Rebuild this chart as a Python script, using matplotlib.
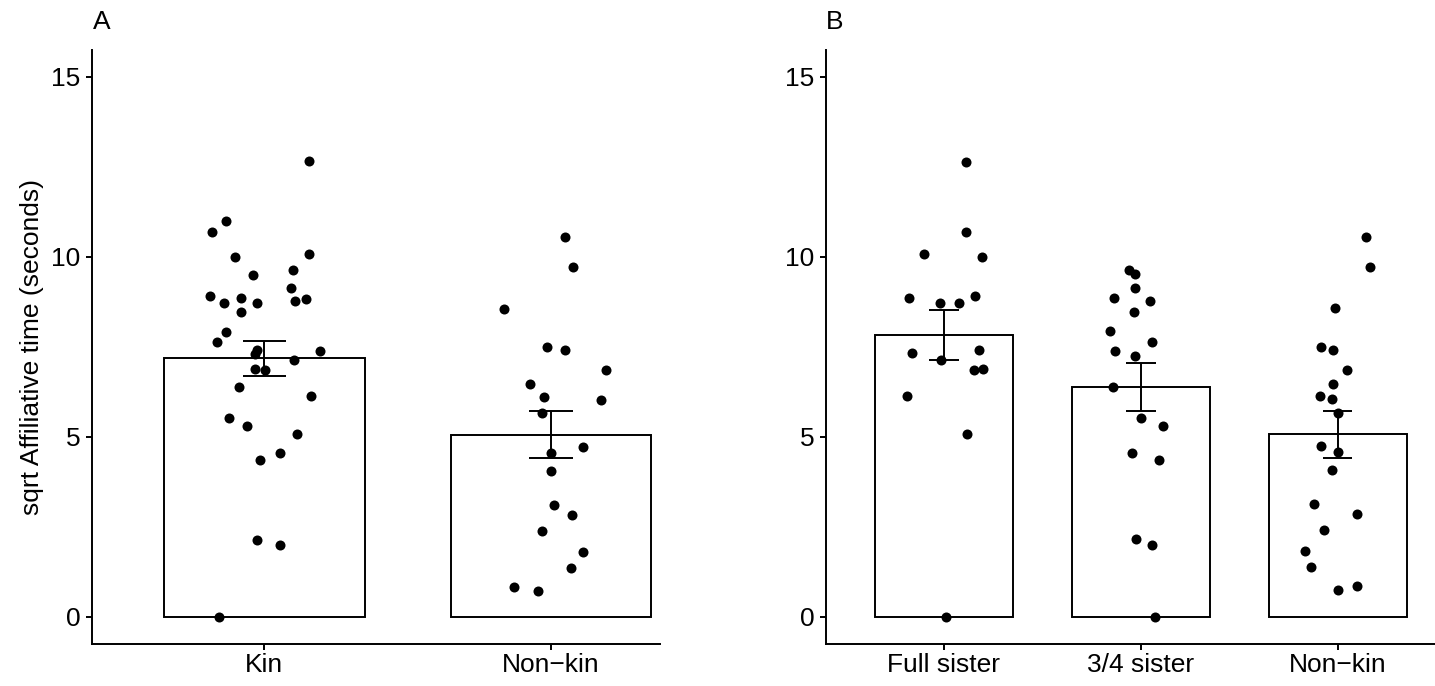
import matplotlib
matplotlib.use("Agg")
import matplotlib.pyplot as plt

plt.rcParams['font.family'] = ['Liberation Sans', 'DejaVu Sans']

# Panel A: kin vs non-kin
grupos_a = ["Kin", "Non\u2212kin"]
media_a = [7.19, 5.06]
error_a = [0.49, 0.65]

kin_vals = [12.66, 10.99, 10.70, 10.00, 10.07, 9.63, 9.51, 9.15, 8.91, 8.71, 8.85,
            8.72, 8.79, 8.83, 8.47, 7.93, 7.65, 7.42, 7.31, 7.38, 7.14, 6.90, 6.85,
            6.39, 6.14, 5.52, 5.30, 5.08, 4.56, 4.37, 2.15, 2.00, 0.00]
kin_jit = [0.155, -0.132, -0.180, -0.101, 0.155, 0.102, -0.038, 0.095, -0.189, -0.140, -0.081,
           -0.025, 0.108, 0.145, -0.081, -0.134, -0.166, -0.026, -0.033, 0.194, 0.103, -0.031, 0.003,
           -0.089, 0.165, -0.122, -0.058, 0.116, 0.055, -0.016, -0.024, 0.057, -0.157]

nonkin_a_vals = [10.56, 9.71, 8.56, 7.49, 7.41, 6.85, 6.46, 6.11, 6.04, 5.66,
                 4.56, 4.72, 4.06, 3.10, 2.84, 2.39, 1.81, 1.35, 0.84, 0.72]
nonkin_a_jit = [0.049, 0.077, -0.163, -0.015, 0.048, 0.192, -0.072, -0.023, 0.175, -0.032,
                -0.001, 0.111, 0.000, 0.009, 0.073, -0.030, 0.111, 0.071, -0.130, -0.045]

# Panel B: relatedness classes
grupos_b = ["Full sister", "3/4 sister", "Non\u2212kin"]
media_b = [7.84, 6.38, 5.07]
error_b = [0.70, 0.67, 0.65]

full_vals = [12.65, 10.70, 10.07, 9.99, 8.85, 8.72, 8.71, 8.91, 7.34, 7.14, 7.43,
             6.85, 6.90, 6.15, 5.08, 0.00]
full_jit = [0.110, 0.113, -0.100, 0.194, -0.178, -0.022, 0.076, 0.157, -0.161, -0.015, 0.179,
            0.154, 0.198, -0.188, 0.117, 0.012]

tq_vals = [9.65, 9.52, 9.15, 8.85, 8.79, 8.48, 7.94, 7.65, 7.38, 7.25, 6.40,
           5.53, 5.30, 4.56, 4.37, 2.17, 2.00, 0.00]
tq_jit = [-0.058, -0.030, -0.030, -0.136, 0.047, -0.037, -0.156, 0.057, -0.129, -0.027, -0.142,
          0.000, 0.115, -0.044, 0.094, -0.024, 0.057, 0.074]

nonkin_b_vals = [10.56, 9.71, 8.58, 7.51, 7.43, 6.86, 6.48, 6.14, 6.06, 5.68,
                 4.75, 4.58, 4.09, 3.13, 2.86, 2.42, 1.84, 1.38, 0.86, 0.75]
nonkin_b_jit = [0.144, 0.165, -0.014, -0.085, -0.022, 0.047, -0.024, -0.090, -0.030, 0.000,
                -0.083, 0.000, -0.027, -0.120, 0.098, -0.070, -0.166, -0.134, 0.098, 0.000]

W, H = 1435, 686
fig = plt.figure(figsize=(W / 100, H / 100), dpi=100)
lw = 1.4
fs = 19


def panel(ax, grupos, medias, errores, puntos, xlim):
    xs = list(range(1, len(grupos) + 1))
    ax.bar(xs, medias, width=0.7, color='white', edgecolor='black', linewidth=lw, zorder=1)
    lo = [m - e for m, e in zip(medias, errores)]
    hi = [m + e for m, e in zip(medias, errores)]
    ax.vlines(xs, lo, hi, color='black', linewidth=lw, zorder=2)
    for x, a, b in zip(xs, lo, hi):
        ax.hlines([a, b], x - 0.075, x + 0.075, color='black', linewidth=lw, zorder=2)
    for x, (vals, jit) in zip(xs, puntos):
        ax.scatter([x + j for j in jit], vals, s=52, color='black', linewidths=0, zorder=3)
    ax.set_xlim(*xlim)
    ax.set_ylim(-0.75, 15.75)
    ax.set_xticks(xs)
    ax.set_xticklabels(grupos)
    ax.set_yticks([0, 5, 10, 15])
    for s in ['top', 'right']:
        ax.spines[s].set_visible(False)
    for s in ['left', 'bottom']:
        ax.spines[s].set_linewidth(lw)
    ax.tick_params(axis='both', length=4.3, width=lw, labelsize=fs, colors='black')
    ax.tick_params(axis='y', pad=4)
    ax.tick_params(axis='x', pad=2)


ax_a = fig.add_axes([92 / W, (H - 644) / H, (660 - 92) / W, (644 - 50) / H])
panel(ax_a, grupos_a, media_a, error_a,
      [(kin_vals, kin_jit), (nonkin_a_vals, nonkin_a_jit)], (0.4, 2.38))
ax_a.set_ylabel("sqrt Affiliative time (seconds)", fontsize=fs)
ax_a.yaxis.set_label_coords(-(92 - 44) / (660 - 92), 0.5)

ax_b = fig.add_axes([825.7 / W, (H - 644) / H, (W - 825.7) / W, (644 - 50) / H])
panel(ax_b, grupos_b, media_b, error_b,
      [(full_vals, full_jit), (tq_vals, tq_jit), (nonkin_b_vals, nonkin_b_jit)], (0.4, 3.494))

fig.text(102 / W, 1 - 22 / H, "A", fontsize=fs, ha='center', va='center')
fig.text(835 / W, 1 - 22 / H, "B", fontsize=fs, ha='center', va='center')

fig.savefig("out.png", dpi=100, facecolor='white')
